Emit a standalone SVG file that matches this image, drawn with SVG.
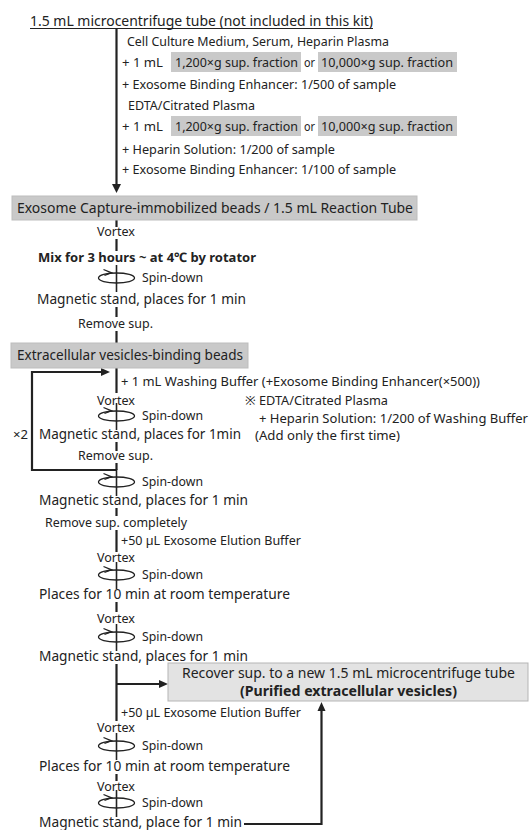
<svg xmlns="http://www.w3.org/2000/svg" width="531" height="830" viewBox="0 0 531 830">
<style>
text{font-family:"Noto Sans","Liberation Sans",sans-serif;fill:#222}
.h{font-size:14.5px}
.r{font-size:14px}
.b{font-size:13px}
.s{font-size:12px}
.bold{font-weight:bold}
.ln{stroke:#222;stroke-width:2.2;fill:none}
.hl{fill:#c9c9c9}
.box{fill:#c9c9c9;stroke:#bdbdbd;stroke-width:1}
.box3{fill:#e3e3e3;stroke:#b5b5b5;stroke-width:1}
.ah{fill:#222}
</style>
<defs>
<g id="spinicon">
<ellipse cx="0" cy="0" rx="18" ry="5" fill="none" stroke="#222" stroke-width="1.3"/>
<path d="M-13,-8.5 L-5,-5.2 L-12,-2.5" fill="none" stroke="#222" stroke-width="1.3"/>
<line x1="0" y1="-13" x2="0" y2="14" stroke="#222" stroke-width="1.6"/>
</g>
</defs>

<g id="connectors">
<line class="ln" x1="116.5" y1="29" x2="116.5" y2="185"/>
<polygon class="ah" points="112,184 121,184 116.5,193"/>
<line class="ln" x1="116.5" y1="220" x2="116.5" y2="227"/>
<line class="ln" x1="116.5" y1="239" x2="116.5" y2="251"/>
<line class="ln" x1="116.5" y1="307" x2="116.5" y2="317"/>
<line class="ln" x1="116.5" y1="331" x2="116.5" y2="343"/>
<line class="ln" x1="116.5" y1="368" x2="116.5" y2="393"/>
<line class="ln" x1="116.5" y1="442" x2="116.5" y2="451"/>
<line class="ln" x1="116.5" y1="463" x2="116.5" y2="470"/>
<polyline class="ln" points="116.5,470 32,470 32,372 102,372"/>
<polygon class="ah" points="101,368 101,376 110,372"/>
<line class="ln" x1="116.5" y1="508" x2="116.5" y2="516"/>
<line class="ln" x1="116.5" y1="530" x2="116.5" y2="552"/>
<line class="ln" x1="116.5" y1="602" x2="116.5" y2="612"/>
<line class="ln" x1="116.5" y1="664" x2="116.5" y2="721"/>
<line class="ln" x1="116.5" y1="684" x2="160" y2="684"/>
<polygon class="ah" points="159,680 159,688 168,684"/>
<line class="ln" x1="116.5" y1="774" x2="116.5" y2="781"/>
<polyline class="ln" points="244,824 321.5,824 321.5,710"/>
<polygon class="ah" points="317.5,711 325.5,711 321.5,702"/>
</g>

<g id="header">
<text class="h" x="30" y="26" textLength="343" lengthAdjust="spacingAndGlyphs">1.5 mL microcentrifuge tube (not included in this kit)</text>
<line x1="30" y1="28.5" x2="373" y2="28.5" stroke="#222" stroke-width="1"/>
</g>

<g id="samples">
<text class="b" x="127" y="46" textLength="262" lengthAdjust="spacingAndGlyphs">Cell Culture Medium, Serum, Heparin Plasma</text>
<rect class="hl" x="171" y="52" width="130" height="20"/>
<rect class="hl" x="318" y="52" width="139" height="20"/>
<text class="b" x="122" y="67" textLength="41" lengthAdjust="spacingAndGlyphs">+ 1 mL</text>
<text class="b" x="175" y="67" textLength="123" lengthAdjust="spacingAndGlyphs">1,200×g sup. fraction</text>
<text class="b" x="304" y="67" textLength="11" lengthAdjust="spacingAndGlyphs">or</text>
<text class="b" x="321" y="67" textLength="132" lengthAdjust="spacingAndGlyphs">10,000×g sup. fraction</text>
<text class="b" x="122" y="89" textLength="274" lengthAdjust="spacingAndGlyphs">+ Exosome Binding Enhancer: 1/500 of sample</text>
<text class="b" x="128" y="110" textLength="127" lengthAdjust="spacingAndGlyphs">EDTA/Citrated Plasma</text>
<rect class="hl" x="171" y="116" width="130" height="20"/>
<rect class="hl" x="318" y="116" width="139" height="20"/>
<text class="b" x="122" y="131" textLength="41" lengthAdjust="spacingAndGlyphs">+ 1 mL</text>
<text class="b" x="175" y="131" textLength="123" lengthAdjust="spacingAndGlyphs">1,200×g sup. fraction</text>
<text class="b" x="304" y="131" textLength="11" lengthAdjust="spacingAndGlyphs">or</text>
<text class="b" x="321" y="131" textLength="132" lengthAdjust="spacingAndGlyphs">10,000×g sup. fraction</text>
<text class="b" x="122" y="154" textLength="213" lengthAdjust="spacingAndGlyphs">+ Heparin Solution: 1/200 of sample</text>
<text class="b" x="122" y="174" textLength="274" lengthAdjust="spacingAndGlyphs">+ Exosome Binding Enhancer: 1/100 of sample</text>
</g>

<g id="capture-beads">
<rect class="box" x="12" y="196" width="405" height="24"/>
<text class="h" x="17" y="213" textLength="396" lengthAdjust="spacingAndGlyphs">Exosome Capture-immobilized beads / 1.5 mL Reaction Tube</text>
</g>

<g id="step-mix">
<text class="s" x="97" y="236" textLength="38" lengthAdjust="spacingAndGlyphs">Vortex</text>
<text class="b bold" x="38" y="262" textLength="218" lengthAdjust="spacingAndGlyphs">Mix for 3 hours ~ at 4℃ by rotator</text>
<use href="#spinicon" x="116.5" y="278"/>
<text class="b" x="142" y="282" textLength="61" lengthAdjust="spacingAndGlyphs">Spin-down</text>
<text class="h" x="37" y="304" textLength="209" lengthAdjust="spacingAndGlyphs">Magnetic stand, places for 1 min</text>
<text class="s" x="78" y="328" textLength="75" lengthAdjust="spacingAndGlyphs">Remove sup.</text>
</g>

<g id="ev-beads">
<rect class="box" x="11" y="343" width="237" height="25"/>
<text class="h" x="17" y="360" textLength="226" lengthAdjust="spacingAndGlyphs">Extracellular vesicles-binding beads</text>
</g>

<g id="wash">
<text class="b" x="121" y="386" textLength="359" lengthAdjust="spacingAndGlyphs">+ 1 mL Washing Buffer (+Exosome Binding Enhancer(×500))</text>
<text class="s" x="97" y="405" textLength="38" lengthAdjust="spacingAndGlyphs">Vortex</text>
<text class="b" x="245" y="405" textLength="143" lengthAdjust="spacingAndGlyphs">※ EDTA/Citrated Plasma</text>
<use href="#spinicon" x="116.5" y="416"/>
<text class="b" x="142" y="420" textLength="61" lengthAdjust="spacingAndGlyphs">Spin-down</text>
<text class="b" x="259" y="423" textLength="269" lengthAdjust="spacingAndGlyphs">+ Heparin Solution: 1/200 of Washing Buffer</text>
<text class="b" x="13" y="439" textLength="15" lengthAdjust="spacingAndGlyphs">×2</text>
<text class="h" x="39" y="439" textLength="202" lengthAdjust="spacingAndGlyphs">Magnetic stand, places for 1min</text>
<text class="b" x="255" y="440" textLength="145" lengthAdjust="spacingAndGlyphs">(Add only the first time)</text>
<text class="s" x="78" y="460" textLength="75" lengthAdjust="spacingAndGlyphs">Remove sup.</text>
</g>

<g id="post-wash">
<use href="#spinicon" x="116.5" y="482"/>
<text class="b" x="142" y="486" textLength="61" lengthAdjust="spacingAndGlyphs">Spin-down</text>
<text class="h" x="39" y="505" textLength="209" lengthAdjust="spacingAndGlyphs">Magnetic stand, places for 1 min</text>
<text class="s" x="45" y="527" textLength="142" lengthAdjust="spacingAndGlyphs">Remove sup. completely</text>
</g>

<g id="elution1">
<text class="b" x="121" y="545" textLength="180" lengthAdjust="spacingAndGlyphs">+50 µL Exosome Elution Buffer</text>
<text class="s" x="97" y="562" textLength="38" lengthAdjust="spacingAndGlyphs">Vortex</text>
<use href="#spinicon" x="116.5" y="575"/>
<text class="b" x="142" y="579" textLength="61" lengthAdjust="spacingAndGlyphs">Spin-down</text>
<text class="h" x="39" y="599" textLength="251" lengthAdjust="spacingAndGlyphs">Places for 10 min at room temperature</text>
<text class="s" x="97" y="623" textLength="38" lengthAdjust="spacingAndGlyphs">Vortex</text>
<use href="#spinicon" x="116.5" y="637"/>
<text class="b" x="142" y="641" textLength="61" lengthAdjust="spacingAndGlyphs">Spin-down</text>
<text class="h" x="39" y="661" textLength="209" lengthAdjust="spacingAndGlyphs">Magnetic stand, places for 1 min</text>
</g>

<g id="recover">
<rect class="box3" x="168" y="663" width="360" height="38"/>
<text class="r" x="182" y="678" textLength="333" lengthAdjust="spacingAndGlyphs">Recover sup. to a new 1.5 mL microcentrifuge tube</text>
<text class="r bold" x="240" y="696" textLength="217" lengthAdjust="spacingAndGlyphs">(Purified extracellular vesicles)</text>
</g>

<g id="elution2">
<text class="b" x="121" y="717" textLength="180" lengthAdjust="spacingAndGlyphs">+50 µL Exosome Elution Buffer</text>
<text class="s" x="97" y="732" textLength="38" lengthAdjust="spacingAndGlyphs">Vortex</text>
<use href="#spinicon" x="116.5" y="746"/>
<text class="b" x="142" y="750" textLength="61" lengthAdjust="spacingAndGlyphs">Spin-down</text>
<text class="h" x="39" y="771" textLength="251" lengthAdjust="spacingAndGlyphs">Places for 10 min at room temperature</text>
<text class="s" x="97" y="791" textLength="38" lengthAdjust="spacingAndGlyphs">Vortex</text>
<use href="#spinicon" x="116.5" y="803"/>
<text class="b" x="142" y="807" textLength="61" lengthAdjust="spacingAndGlyphs">Spin-down</text>
<text class="h" x="39" y="827" textLength="203" lengthAdjust="spacingAndGlyphs">Magnetic stand, place for 1 min</text>
</g>
</svg>
